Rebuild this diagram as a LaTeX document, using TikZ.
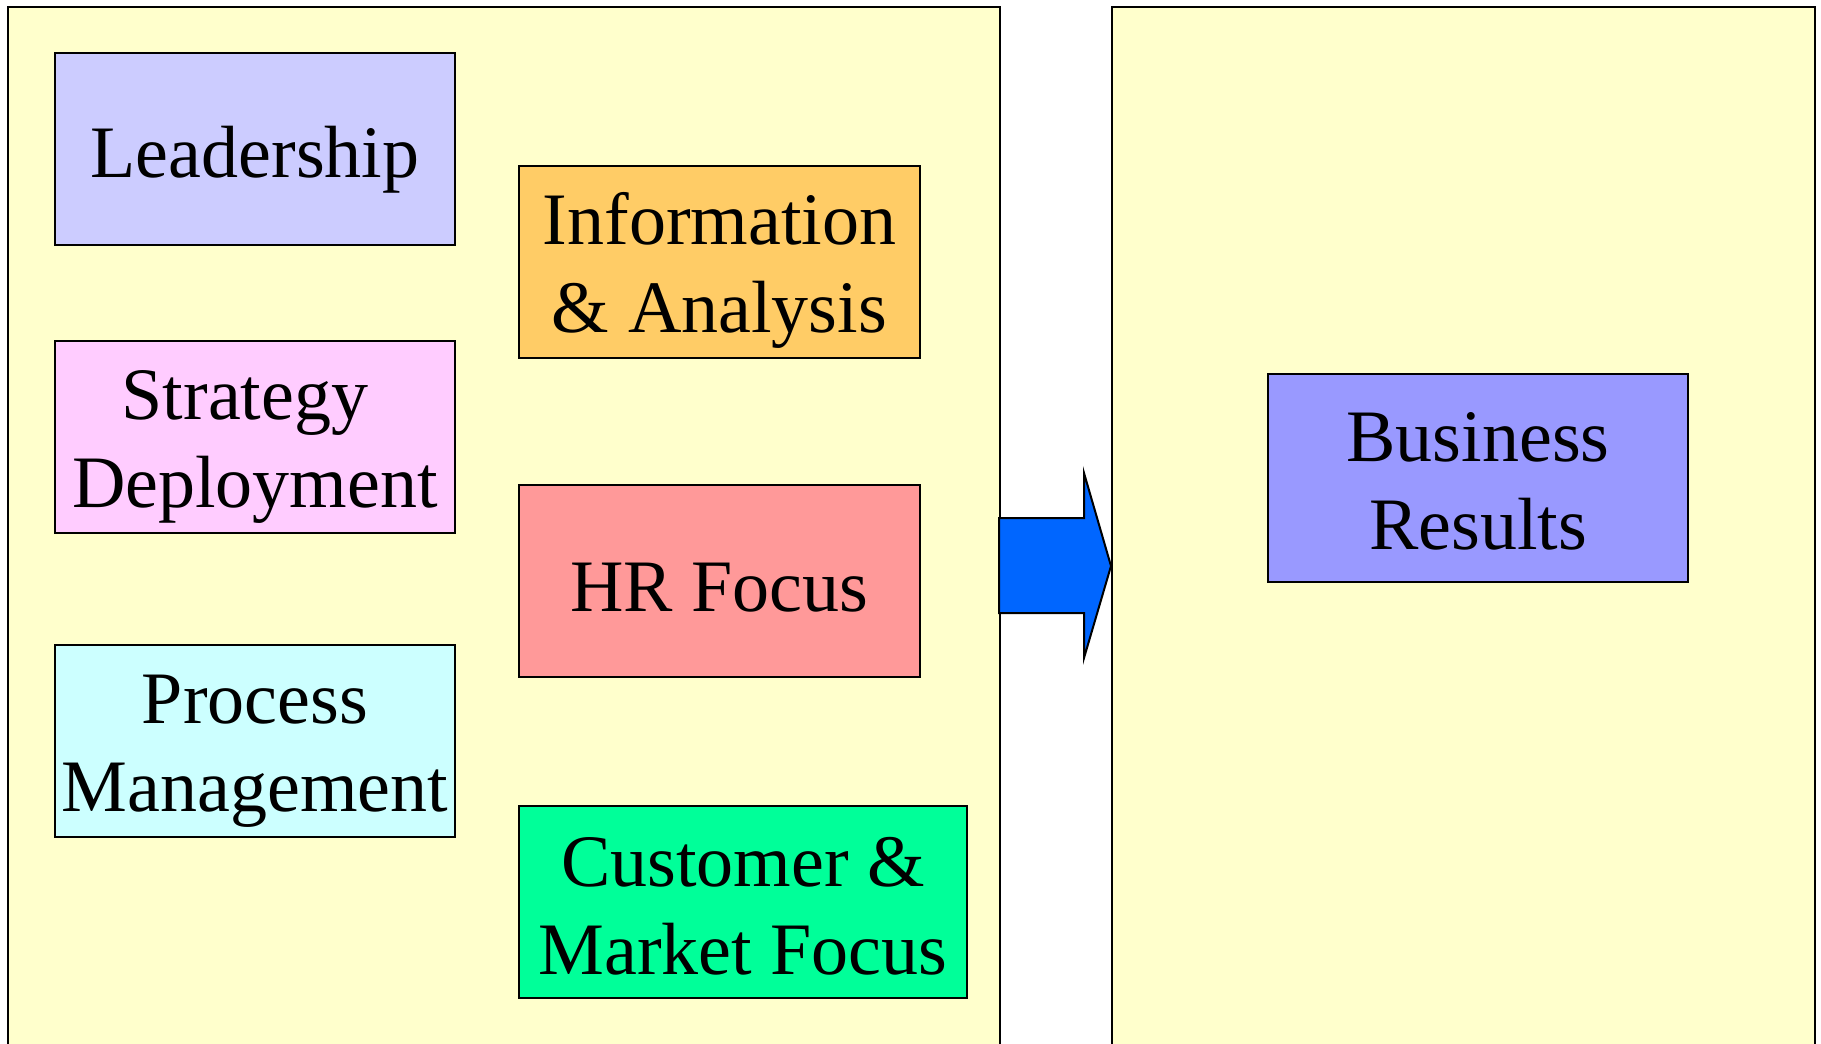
\documentclass[tikz,border=0pt]{standalone}
\usepackage{fontspec}
\setmainfont{Liberation Serif}
\definecolor{panelyellow}{HTML}{FFFFCC}
\definecolor{leadc}{HTML}{CCCCFF}
\definecolor{stratc}{HTML}{FFCCFF}
\definecolor{procc}{HTML}{CCFFFF}
\definecolor{infoc}{HTML}{FFCC66}
\definecolor{hrc}{HTML}{FF9999}
\definecolor{custc}{HTML}{00FF99}
\definecolor{busc}{HTML}{9999FF}
\definecolor{arrowc}{HTML}{0066FF}
\newcommand{\tstrut}[1]{\rule{0pt}{#1}}
\begin{document}
\begin{tikzpicture}[x=1pt,y=-1pt,
  panel/.style={draw=black, line width=2.2pt, fill=panelyellow, inner sep=0pt, anchor=north west},
  cbox/.style={draw=black, line width=2pt, inner sep=0pt, align=center,
    font=\fontsize{74}{88}\selectfont, minimum height=192pt}]
\clip (0,0) rectangle (1821,1044);
\fill[white] (0,0) rectangle (1821,1044);
\node[panel, minimum width=992pt, minimum height=1080pt] (left) at (7,6) {};
\node[panel, minimum width=703pt, minimum height=1080pt] (right) at (1111,6) {};
\node[cbox, fill=leadc, minimum width=400pt] (lead) at (255,149) {\tstrut{73pt}Leadership};
\node[cbox, fill=stratc, minimum width=400pt] (strat) at (255,437) {\tstrut{68pt}Strategy\hspace*{20pt}\\Deployment};
\node[cbox, fill=procc, minimum width=400pt] (proc) at (255,741) {\tstrut{68pt}Process\\Management};
\node[cbox, fill=infoc, minimum width=401pt] (info) at (719.5,262) {\tstrut{68pt}Information\\\&~Analysis};
\node[cbox, fill=hrc, minimum width=401pt] (hr) at (719.5,581) {\tstrut{62pt}HR Focus};
\node[cbox, fill=custc, minimum width=448pt] (cust) at (743,902) {\tstrut{57pt}Customer \&\\Market Focus};
\node[cbox, fill=busc, minimum width=420pt, minimum height=208pt] (bus) at (1478,478) {\tstrut{55pt}Business\\Results};
\draw[line width=2pt, fill=arrowc, line join=miter]
  (999,518) -- (1084,518) -- (1084,473) -- (1111,566) -- (1084,658) -- (1084,613) -- (999,613) -- cycle;
\end{tikzpicture}
\end{document}
